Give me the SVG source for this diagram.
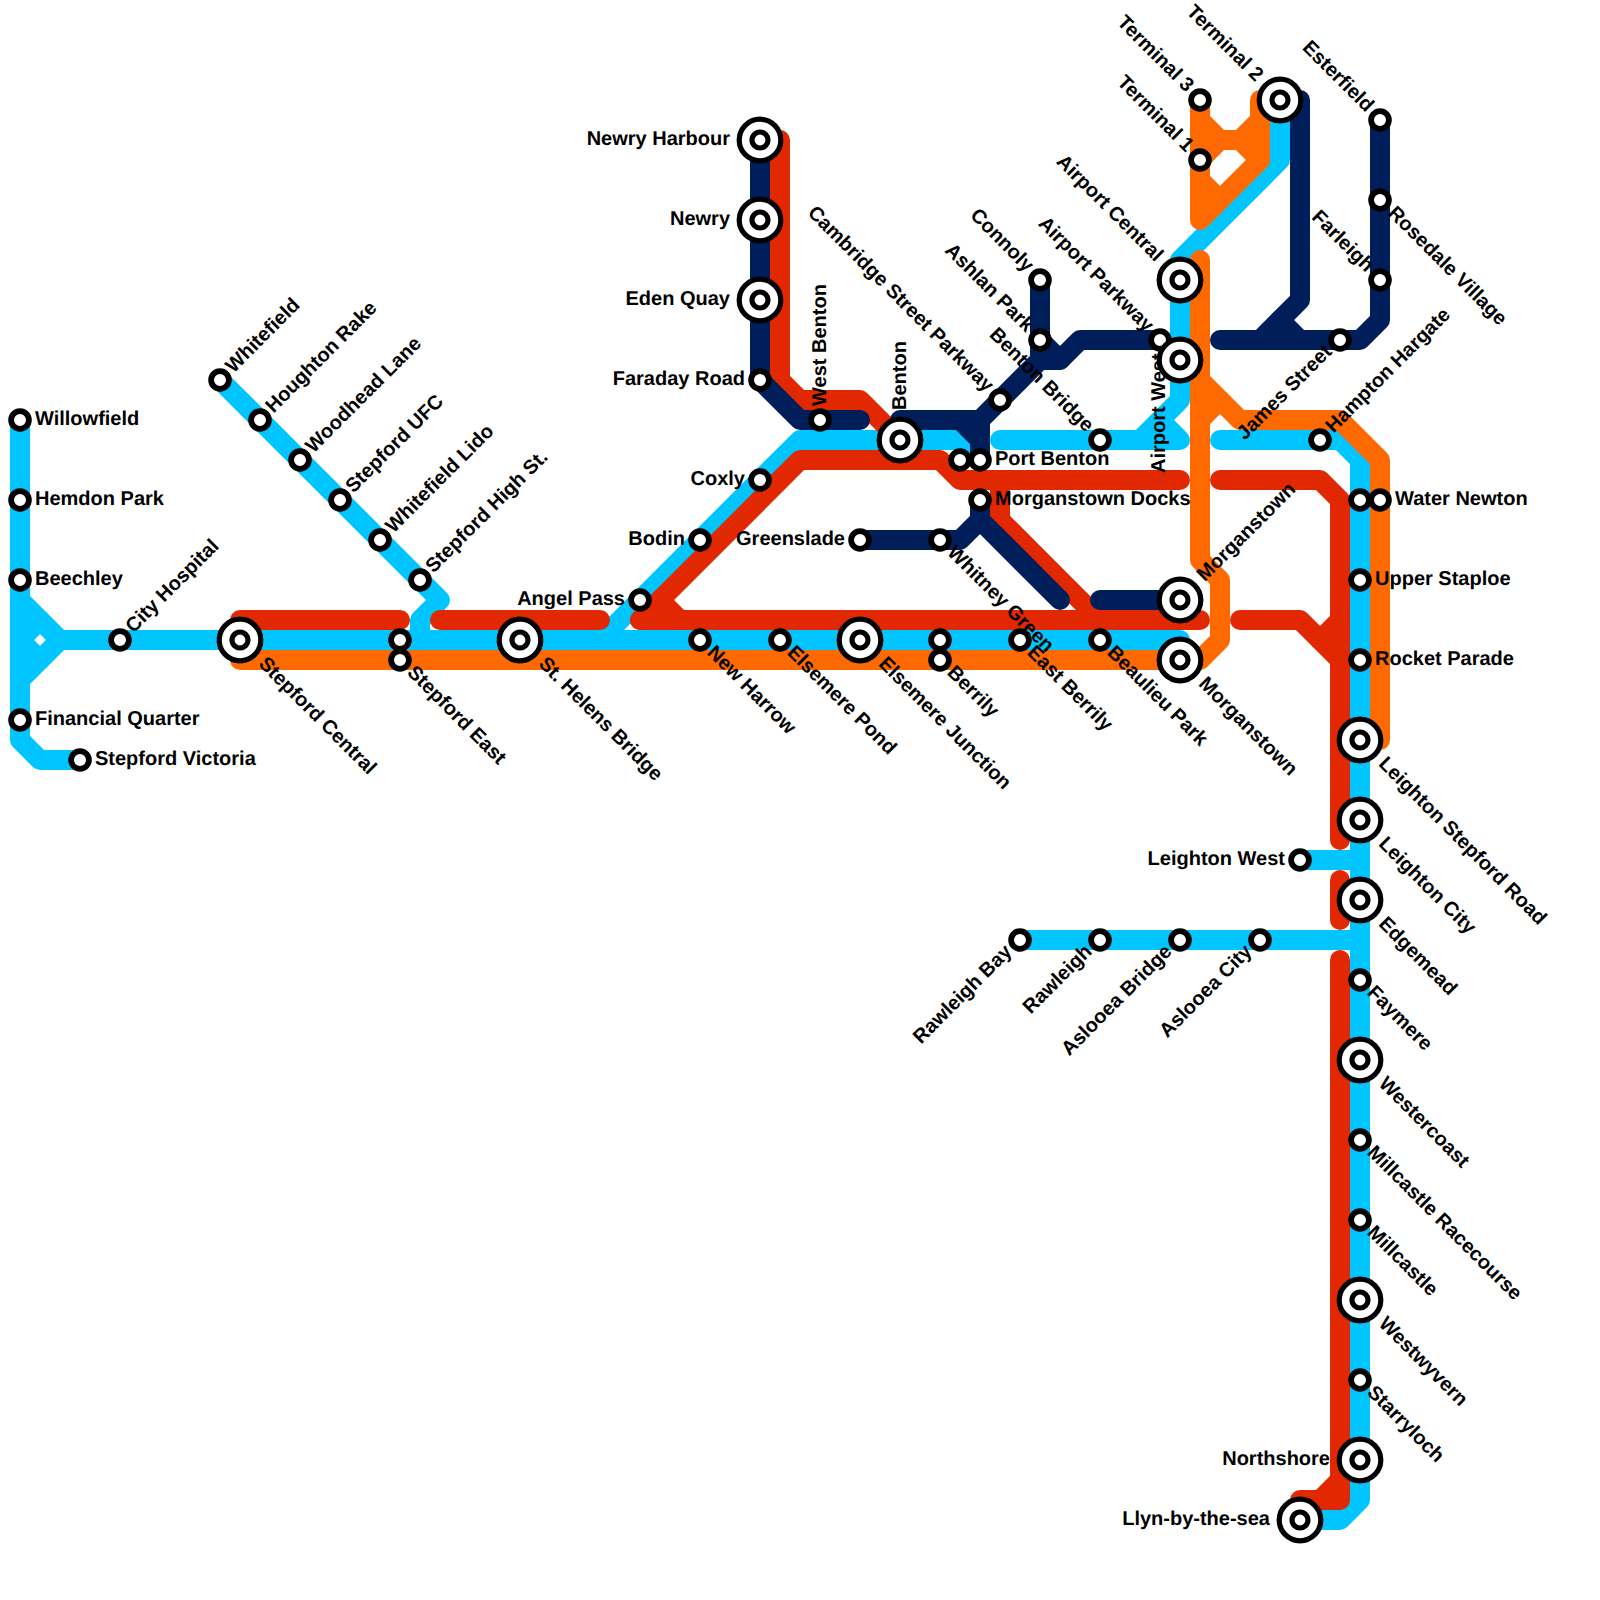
<svg xmlns="http://www.w3.org/2000/svg" width="1600" height="1600" viewBox="0 0 1600 1600">
<style>
.c path{fill:none;stroke-width:20;stroke-linecap:round;stroke-linejoin:round}
.b path{stroke:#00c5ff}.r path{stroke:#e12800}.o path{stroke:#ff6a00}.n path{stroke:#001e5a}
text{font-family:"Liberation Sans",Arial,sans-serif;font-weight:700;font-size:20px;fill:#000;text-rendering:geometricPrecision}
.e{text-anchor:end}
circle{fill:#fff;stroke:#000}
.s{stroke-width:5.8}
.B{stroke-width:5.2}
.d{stroke-width:5.2}
</style>
<defs>
<g id="sm"><circle class="s" r="8.9"/></g>
<g id="bg"><circle class="B" r="20.8"/><circle class="d" r="8"/></g>
</defs>
<rect width="1600" height="1600" fill="#fff"/>
<g id="connectors" class="c">
<g class="b">
<path d="M20 420V740L40 760H80"/>
<path d="M20 600L60 640H1180"/>
<path d="M60 640L20 680"/>
<path d="M40 620L20 640L40 660"/>
<path d="M220 380L440 600L420 620V640"/>
<path d="M600 640L800 440H960L980 460"/>
<path d="M1000 440H1180L1160 420"/>
<path d="M1280 100V160L1180 260V400L1140 440"/>
<path d="M1220 440H1340L1360 460V1500L1340 1520H1300"/>
<path d="M1300 860H1360"/>
<path d="M1020 940H1360"/>
</g>
<g class="r">
<path d="M240 620H400"/>
<path d="M440 620H600"/>
<path d="M640 620H1200"/>
<path d="M660 600L680 620"/>
<path d="M640 620L800 460H940L960 480H1180"/>
<path d="M780 140V380L800 400H860L900 440"/>
<path d="M1000 480V520L1100 620"/>
<path d="M1220 480H1320L1340 500V840"/>
<path d="M1240 620H1300L1340 660"/>
<path d="M1320 640L1340 620"/>
<path d="M1340 880V920"/>
<path d="M1340 960V1500H1300"/>
<path d="M1340 1480L1320 1500"/>
</g>
<g class="o">
<path d="M240 660H1200L1220 640V580L1200 560V260"/>
<path d="M1200 100V220L1260 160V100"/>
<path d="M1200 120L1220 140H1240L1260 120"/>
<path d="M1200 160L1220 140"/>
<path d="M1200 180L1220 200"/>
<path d="M1240 140L1260 160"/>
<path d="M1200 380L1240 420H1340L1380 460V740"/>
<path d="M1200 420L1220 400"/>
</g>
<g class="n">
<path d="M760 140V380L800 420H860"/>
<path d="M900 420H980L1040 360H1060L1080 340H1160"/>
<path d="M980 420V460"/>
<path d="M960 420L980 440"/>
<path d="M1040 280V360"/>
<path d="M1040 340L1060 360"/>
<path d="M860 540H960L980 520V500"/>
<path d="M980 520L1060 600"/>
<path d="M1100 600H1180"/>
<path d="M1380 120V320L1360 340H1220"/>
<path d="M1300 100V300L1260 340"/>
<path d="M1280 320L1300 340"/>
</g>
</g>
<g id="nodes">
<g id="willowfield"><text x="35" y="425">Willowfield</text><use href="#sm" x="20" y="420"/></g>
<g id="hemdon-park"><text x="35" y="505">Hemdon Park</text><use href="#sm" x="20" y="500"/></g>
<g id="beechley"><text x="35" y="585">Beechley</text><use href="#sm" x="20" y="580"/></g>
<g id="financial-quarter"><text x="35" y="725">Financial Quarter</text><use href="#sm" x="20" y="720"/></g>
<g id="stepford-victoria"><text x="95" y="765">Stepford Victoria</text><use href="#sm" x="80" y="760"/></g>
<g id="city-hospital"><text transform="translate(120 640) rotate(-45)" x="14" y="5">City Hospital</text><use href="#sm" x="120" y="640"/></g>
<g id="whitefield"><text transform="translate(220 380) rotate(-45)" x="14" y="5">Whitefield</text><use href="#sm" x="220" y="380"/></g>
<g id="houghton-rake"><text transform="translate(260 420) rotate(-45)" x="14" y="5">Houghton Rake</text><use href="#sm" x="260" y="420"/></g>
<g id="woodhead-lane"><text transform="translate(300 460) rotate(-45)" x="14" y="5">Woodhead Lane</text><use href="#sm" x="300" y="460"/></g>
<g id="stepford-ufc"><text transform="translate(340 500) rotate(-45)" x="14" y="5">Stepford UFC</text><use href="#sm" x="340" y="500"/></g>
<g id="whitefield-lido"><text transform="translate(380 540) rotate(-45)" x="14" y="5">Whitefield Lido</text><use href="#sm" x="380" y="540"/></g>
<g id="stepford-high-st"><text transform="translate(420 580) rotate(-45)" x="14" y="5">Stepford High St.</text><use href="#sm" x="420" y="580"/></g>
<g id="stepford-central"><text transform="translate(240 640) rotate(45)" x="30" y="5">Stepford Central</text><use href="#bg" x="240" y="640"/></g>
<g id="stepford-east"><use href="#sm" x="400" y="640"/><text transform="translate(400 660) rotate(45)" x="14" y="5">Stepford East</text><use href="#sm" x="400" y="660"/></g>
<g id="st-helens-bridge"><text transform="translate(520 640) rotate(45)" x="30" y="5">St. Helens Bridge</text><use href="#bg" x="520" y="640"/></g>
<g id="angel-pass"><text class="e" x="625" y="605">Angel Pass</text><use href="#sm" x="640" y="600"/></g>
<g id="new-harrow"><text transform="translate(700 640) rotate(45)" x="14" y="5">New Harrow</text><use href="#sm" x="700" y="640"/></g>
<g id="elsemere-pond"><text transform="translate(780 640) rotate(45)" x="14" y="5">Elsemere Pond</text><use href="#sm" x="780" y="640"/></g>
<g id="elsemere-junction"><text transform="translate(860 640) rotate(45)" x="30" y="5">Elsemere Junction</text><use href="#bg" x="860" y="640"/></g>
<g id="berrily"><use href="#sm" x="940" y="640"/><text transform="translate(940 660) rotate(45)" x="14" y="5">Berrily</text><use href="#sm" x="940" y="660"/></g>
<g id="east-berrily"><text transform="translate(1020 640) rotate(45)" x="14" y="5">East Berrily</text><use href="#sm" x="1020" y="640"/></g>
<g id="beaulieu-park"><text transform="translate(1100 640) rotate(45)" x="14" y="5">Beaulieu Park</text><use href="#sm" x="1100" y="640"/></g>
<g id="morganstown-south"><text transform="translate(1180 660) rotate(45)" x="30" y="5">Morganstown</text><use href="#bg" x="1180" y="660"/></g>
<g id="morganstown-north"><text transform="translate(1180 600) rotate(-45)" x="30" y="5">Morganstown</text><use href="#bg" x="1180" y="600"/></g>
<g id="newry-harbour"><text class="e" x="730" y="145">Newry Harbour</text><use href="#bg" x="760" y="140"/></g>
<g id="newry"><text class="e" x="730" y="225">Newry</text><use href="#bg" x="760" y="220"/></g>
<g id="eden-quay"><text class="e" x="730" y="305">Eden Quay</text><use href="#bg" x="760" y="300"/></g>
<g id="faraday-road"><text class="e" x="745" y="385">Faraday Road</text><use href="#sm" x="760" y="380"/></g>
<g id="west-benton"><text transform="translate(820 420) rotate(-90)" x="14" y="6">West Benton</text><use href="#sm" x="820" y="420"/></g>
<g id="benton"><text transform="translate(900 440) rotate(-90)" x="30" y="6">Benton</text><use href="#bg" x="900" y="440"/></g>
<g id="coxly"><text class="e" x="745" y="485">Coxly</text><use href="#sm" x="760" y="480"/></g>
<g id="bodin"><text class="e" x="685" y="545">Bodin</text><use href="#sm" x="700" y="540"/></g>
<g id="greenslade"><text class="e" x="845" y="545">Greenslade</text><use href="#sm" x="860" y="540"/></g>
<g id="whitney-green"><text transform="translate(940 540) rotate(45)" x="14" y="5">Whitney Green</text><use href="#sm" x="940" y="540"/></g>
<g id="morganstown-docks"><text x="995" y="505">Morganstown Docks</text><use href="#sm" x="980" y="500"/></g>
<g id="port-benton"><use href="#sm" x="960" y="460"/><text x="995" y="465">Port Benton</text><use href="#sm" x="980" y="460"/></g>
<g id="cambridge-street-parkway"><text class="e" transform="translate(1000 400) rotate(45)" x="-15" y="5">Cambridge Street Parkway</text><use href="#sm" x="1000" y="400"/></g>
<g id="benton-bridge"><text class="e" transform="translate(1100 440) rotate(45)" x="-15" y="5">Benton Bridge</text><use href="#sm" x="1100" y="440"/></g>
<g id="connoly"><text class="e" transform="translate(1040 280) rotate(45)" x="-15" y="5">Connoly</text><use href="#sm" x="1040" y="280"/></g>
<g id="ashlan-park"><text class="e" transform="translate(1040 340) rotate(45)" x="-15" y="5">Ashlan Park</text><use href="#sm" x="1040" y="340"/></g>
<g id="airport-parkway"><text class="e" transform="translate(1160 340) rotate(45)" x="-15" y="5">Airport Parkway</text><use href="#sm" x="1160" y="340"/></g>
<g id="airport-west"><text transform="translate(1165 473) rotate(-90)">Airport West</text><use href="#bg" x="1180" y="360"/></g>
<g id="airport-central"><text class="e" transform="translate(1180 280) rotate(45)" x="-30" y="5">Airport Central</text><use href="#bg" x="1180" y="280"/></g>
<g id="terminal-3"><text class="e" transform="translate(1200 100) rotate(45)" x="-15" y="5">Terminal 3</text><use href="#sm" x="1200" y="100"/></g>
<g id="terminal-1"><text class="e" transform="translate(1200 160) rotate(45)" x="-15" y="5">Terminal 1</text><use href="#sm" x="1200" y="160"/></g>
<g id="terminal-2"><text class="e" transform="translate(1280 100) rotate(45)" x="-30" y="5">Terminal 2</text><use href="#bg" x="1280" y="100"/></g>
<g id="esterfield"><text class="e" transform="translate(1380 120) rotate(45)" x="-15" y="5">Esterfield</text><use href="#sm" x="1380" y="120"/></g>
<g id="rosedale-village"><text transform="translate(1380 200) rotate(45)" x="15" y="5">Rosedale Village</text><use href="#sm" x="1380" y="200"/></g>
<g id="farleigh"><text class="e" transform="translate(1380 280) rotate(45)" x="-15" y="5">Farleigh</text><use href="#sm" x="1380" y="280"/></g>
<g id="james-street"><text class="e" transform="translate(1340 340) rotate(-45)" x="-14" y="4">James Street</text><use href="#sm" x="1340" y="340"/></g>
<g id="hampton-hargate"><text transform="translate(1320 440) rotate(-45)" x="14" y="5">Hampton Hargate</text><use href="#sm" x="1320" y="440"/></g>
<g id="water-newton"><use href="#sm" x="1360" y="500"/><text x="1395" y="505">Water Newton</text><use href="#sm" x="1380" y="500"/></g>
<g id="upper-staploe"><text x="1375" y="585">Upper Staploe</text><use href="#sm" x="1360" y="580"/></g>
<g id="rocket-parade"><text x="1375" y="665">Rocket Parade</text><use href="#sm" x="1360" y="660"/></g>
<g id="leighton-stepford-road"><text transform="translate(1360 740) rotate(45)" x="30" y="5">Leighton Stepford Road</text><use href="#bg" x="1360" y="740"/></g>
<g id="leighton-city"><text transform="translate(1360 820) rotate(45)" x="30" y="5">Leighton City</text><use href="#bg" x="1360" y="820"/></g>
<g id="leighton-west"><text class="e" x="1285" y="865">Leighton West</text><use href="#sm" x="1300" y="860"/></g>
<g id="edgemead"><text transform="translate(1360 900) rotate(45)" x="30" y="5">Edgemead</text><use href="#bg" x="1360" y="900"/></g>
<g id="rawleigh-bay"><text class="e" transform="translate(1020 940) rotate(-45)" x="-14" y="4">Rawleigh Bay</text><use href="#sm" x="1020" y="940"/></g>
<g id="rawleigh"><text class="e" transform="translate(1100 940) rotate(-45)" x="-14" y="4">Rawleigh</text><use href="#sm" x="1100" y="940"/></g>
<g id="aslooea-bridge"><text class="e" transform="translate(1180 940) rotate(-45)" x="-14" y="4">Aslooea Bridge</text><use href="#sm" x="1180" y="940"/></g>
<g id="aslooea-city"><text class="e" transform="translate(1260 940) rotate(-45)" x="-14" y="4">Aslooea City</text><use href="#sm" x="1260" y="940"/></g>
<g id="faymere"><text transform="translate(1360 980) rotate(45)" x="14" y="5">Faymere</text><use href="#sm" x="1360" y="980"/></g>
<g id="westercoast"><text transform="translate(1360 1060) rotate(45)" x="30" y="5">Westercoast</text><use href="#bg" x="1360" y="1060"/></g>
<g id="millcastle-racecourse"><text transform="translate(1360 1140) rotate(45)" x="14" y="5">Millcastle Racecourse</text><use href="#sm" x="1360" y="1140"/></g>
<g id="millcastle"><text transform="translate(1360 1220) rotate(45)" x="14" y="5">Millcastle</text><use href="#sm" x="1360" y="1220"/></g>
<g id="westwyvern"><text transform="translate(1360 1300) rotate(45)" x="30" y="5">Westwyvern</text><use href="#bg" x="1360" y="1300"/></g>
<g id="starryloch"><text transform="translate(1360 1380) rotate(45)" x="14" y="5">Starryloch</text><use href="#sm" x="1360" y="1380"/></g>
<g id="northshore"><text class="e" x="1330" y="1465">Northshore</text><use href="#bg" x="1360" y="1460"/></g>
<g id="llyn-by-the-sea"><text class="e" x="1270" y="1525">Llyn-by-the-sea</text><use href="#bg" x="1300" y="1520"/></g>
</g>
</svg>
